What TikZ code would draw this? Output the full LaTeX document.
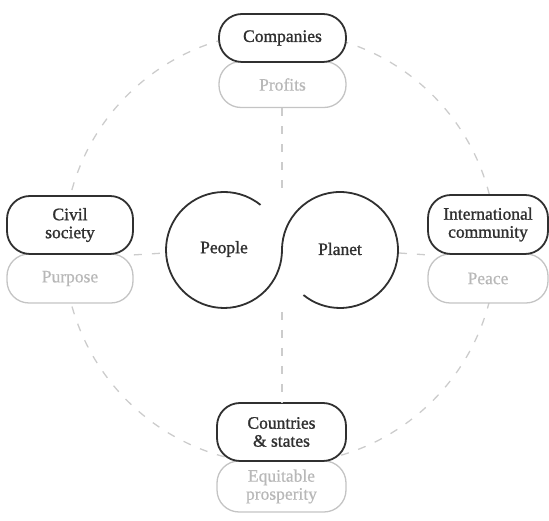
\documentclass[tikz,border=0pt]{standalone}
\usepackage{fontspec}
\usetikzlibrary{calc}
\setmainfont{Liberation Serif}
\newfontfamily\darkfont{Liberation Serif}[FakeBold=1.2]
\newfontfamily\lightfont{Liberation Serif}[FakeBold=0.5]
\definecolor{dk}{HTML}{303030}
\definecolor{lt}{HTML}{C4C4C4}
\definecolor{lttext}{HTML}{B8B8B8}
\definecolor{dashc}{HTML}{CCCCCC}
\begin{document}
\begin{tikzpicture}[x=1pt,y=1pt,
  darkbox/.style={draw=dk, line width=1.8pt, fill=white, rounded corners=23pt,
    align=center, text=dk, inner sep=0pt, font=\darkfont\fontsize{17.5}{18}\selectfont},
  lightbox/.style={draw=lt, line width=1.3pt, fill=white, rounded corners=22pt,
    align=center, text=lttext, inner sep=0pt, font=\lightfont\fontsize{17.5}{18}\selectfont},
  dashline/.style={draw=dashc, line width=1.3pt, dash pattern=on 8pt off 10pt},
  infline/.style={draw=dk, line width=1.8pt},
  label/.style={text=dk, font=\darkfont\fontsize{17.5}{19}\selectfont}]
\useasboundingbox (0,0) rectangle (549,521);
% dashed outer circle
\draw[dashline] (280,273) circle[radius=216];
% light (value) boxes
\node[lightbox, minimum width=127pt, minimum height=46pt] (profits) at (282.5,436.5) {Profits};
\node[lightbox, minimum width=126pt, minimum height=49pt] (purpose) at (70,242.5) {Purpose};
\node[lightbox, minimum width=120pt, minimum height=49pt] (peace) at (488,242.5) {Peace};
\node[lightbox, minimum width=129pt, minimum height=51pt] (equit) at (281.5,34.5) {Equitable\\prosperity};
% dark (actor) boxes
\node[darkbox, minimum width=127pt, minimum height=48pt] (companies) at (282.5,483) {Companies};
\node[darkbox, minimum width=126pt, minimum height=58pt] (civil) at (70,296) {Civil\\society};
\node[darkbox, minimum width=120pt, minimum height=59pt] (intl) at (488,296.5) {International\\community};
\node[darkbox, minimum width=129pt, minimum height=58pt] (countries) at (281.5,89) {Countries\\\& states};
% infinity
\draw[infline] ($(224,271)+(51:58)$) arc[start angle=51, end angle=360, radius=58]
  arc[start angle=180, end angle=-129, radius=58];
\node[label] (people) at (224,272) {People};
\node[label] (planet) at (340,272) {Planet};
% dashed connectors
\coordinate (inftop) at (282,333);
\coordinate (infbot) at (282,209);
\coordinate (infleft) at (165,268);
\coordinate (infright) at (399,268);
\draw[dashline] (profits.south -| inftop) -- (inftop);
\draw[dashline] (infbot) -- (countries.north -| infbot);
\draw[dashline] (civil.south east) -- (infleft);
\draw[dashline] (infright) -- (intl.south west);
\end{tikzpicture}
\end{document}
